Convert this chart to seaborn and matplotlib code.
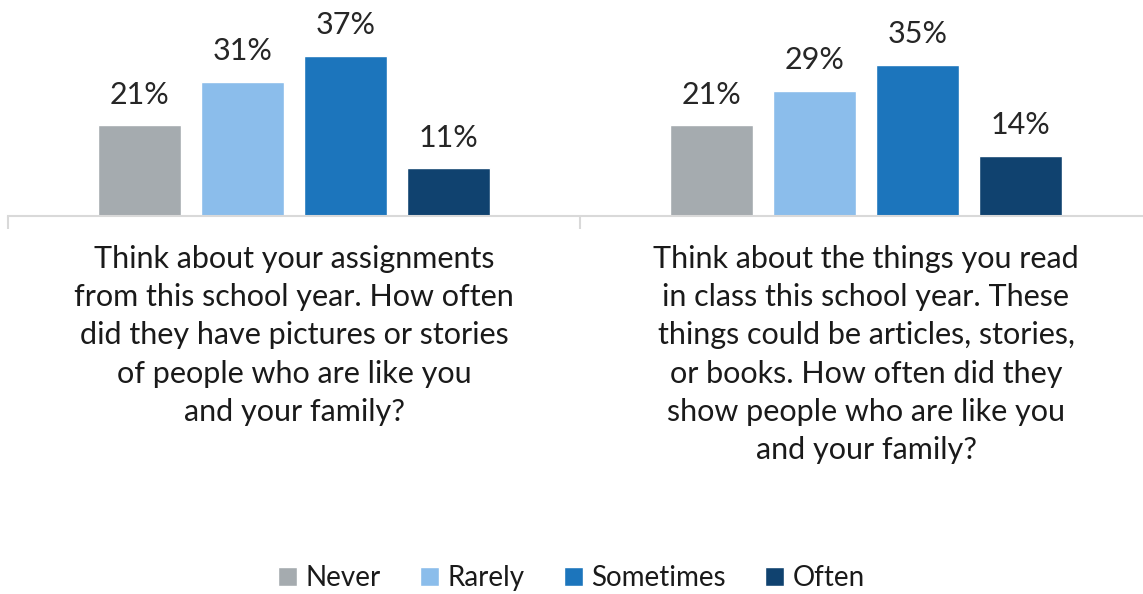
import matplotlib
matplotlib.use("Agg")
import matplotlib.pyplot as plt
import numpy as np
import pandas as pd
import seaborn as sns

# données
questions = [
    "Think about your assignments\nfrom this school year. How often\ndid they have pictures or stories\nof people who are like you\nand your family?",
    "Think about the things you read\nin class this school year. These\nthings could be articles, stories,\nor books. How often did they\nshow people who are like you\nand your family?",
]
reponses = ["Never", "Rarely", "Sometimes", "Often"]
valeurs_q1 = [21, 31, 37, 11]
valeurs_q2 = [21, 29, 35, 14]
couleurs = ["#A5ABAF", "#8BBDEB", "#1C75BC", "#10426F"]

df = pd.DataFrame({
    "Question": [questions[0]] * 4 + [questions[1]] * 4,
    "Reponse": reponses * 2,
    "Valeur": valeurs_q1 + valeurs_q2,
})

sns.set_theme(style="white")
plt.rcParams["font.family"] = ["Lato", "DejaVu Sans"]

fig = plt.figure(figsize=(11.43, 5.94), dpi=100)
ax = fig.add_axes([8 / 1143, 1 - 216 / 594, 1144 / 1143, 216 / 594])

sns.barplot(data=df, x="Question", y="Valeur", hue="Reponse", hue_order=reponses,
            palette=couleurs, saturation=1, width=0.72, gap=0.2, ax=ax, legend=True)

ax.set_xlim(-0.5, 1.5)
ax.set_ylim(0, 50)
ax.set_yticks([])
ax.set_xlabel("")
ax.set_ylabel("")
for s in ["top", "right", "left"]:
    ax.spines[s].set_visible(False)
ax.spines["bottom"].set_color("#D9D9D9")
ax.spines["bottom"].set_linewidth(1.5)

# ticks séparateurs
ax.set_xticks([0, 1])
ax.set_xticklabels(questions, fontsize=22, color="#1a1a1a", linespacing=1.44, va="top")
ax.tick_params(axis="x", which="major", bottom=True, length=0, pad=21)
ax.set_xticks([-0.5, 0.5, 1.5], minor=True)
ax.tick_params(axis="x", which="minor", bottom=True, length=9, width=1.5,
               color="#D9D9D9", direction="out")

# valeurs sur les barres
for c in ax.containers:
    ax.bar_label(c, labels=[f"{v:.0f}%" for v in c.datavalues], padding=12,
                 fontsize=22, color="#262626")

# légende
handles, labels = ax.get_legend_handles_labels()
ax.get_legend().remove()
fig.legend(handles, labels, loc="center", bbox_to_anchor=(0.5, 1 - 578 / 594), ncol=4,
           frameon=False, fontsize=20, handlelength=0.7, handleheight=0.7,
           handletextpad=0.3, columnspacing=1.4, labelcolor="#1a1a1a")

plt.savefig("out.png", dpi=100)
plt.close()
